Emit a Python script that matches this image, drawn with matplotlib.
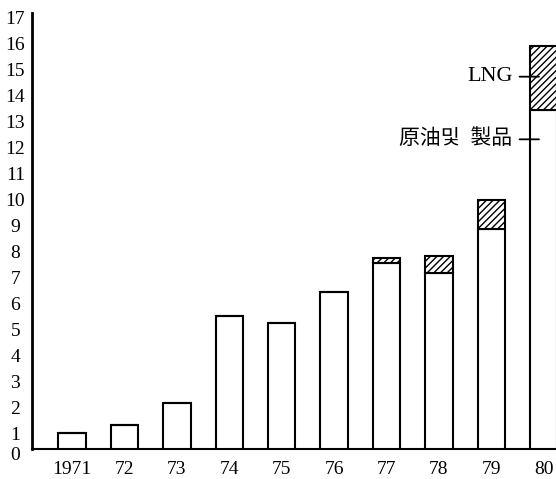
import matplotlib
matplotlib.use("Agg")
import matplotlib.pyplot as plt
import numpy as np

# ---- data ----
years = ["1971", "72", "73", "74", "75", "76", "77", "78", "79", "80"]
crude_products = [1.02, 1.32, 2.18, 5.52, 5.25, 6.45, 7.56, 7.15, 8.85, 13.43]
lng = [0.0, 0.0, 0.0, 0.0, 0.0, 0.0, 0.19, 0.66, 1.12, 2.47]
y_ticks = list(range(1, 18))
label_lng = "LNG"
label_crude = "原油및  製品"

W, H, DPI = 556, 479, 100
fig = plt.figure(figsize=(W / DPI, H / DPI), dpi=DPI)
fig.patch.set_facecolor("white")

ax_left, ax_right, ax_top, ax_bottom = 32, 556, 13, 449
ax = fig.add_axes([ax_left / W, (H - ax_bottom) / H,
                   (ax_right - ax_left) / W, (ax_bottom - ax_top) / H])

serif = ["Liberation Serif", "Noto Sans CJK KR", "DejaVu Sans"]
plt.rcParams["hatch.linewidth"] = 1.0

x = np.arange(len(years))
width = 0.52
ax.bar(x, crude_products, width, color="white", edgecolor="black", linewidth=1.5, zorder=2)
ax.bar(x, lng, width, bottom=crude_products, color="white", edgecolor="black",
       linewidth=1.5, hatch="/////", zorder=2)

ax.set_xlim(-0.765, 9.235)
ax.set_ylim(0.396, 17.17)

for s in ["top", "right"]:
    ax.spines[s].set_visible(False)
ax.spines["left"].set_linewidth(2.0)
ax.spines["bottom"].set_linewidth(1.5)

ax.set_yticks(y_ticks)
ax.set_yticklabels([str(v) for v in y_ticks], fontfamily=serif, fontsize=14, ha="center")
ax.tick_params(axis="y", length=0, pad=12.0)
ax.set_xticks(x)
ax.set_xticklabels(years, fontfamily=serif, fontsize=14)
ax.tick_params(axis="x", length=0, pad=8.5)

# zero label (sits just below the baseline)
fig.text(15 / W, (H - 455) / H, "0", family=serif, fontsize=14, ha="center", va="center")

# pointer annotations on the 1980 bar
ax.annotate(label_lng, xy=(8.91, 14.72), xytext=(8.407, 14.72),
            fontfamily=serif, fontsize=16, ha="right", va="center",
            arrowprops=dict(arrowstyle="-", color="black", lw=1.3,
                            shrinkA=3, shrinkB=0))
ax.annotate(label_crude, xy=(8.91, 12.31), xytext=(8.407, 12.31),
            fontfamily=serif, fontsize=15, ha="right", va="center",
            arrowprops=dict(arrowstyle="-", color="black", lw=1.3,
                            shrinkA=3, shrinkB=0))

fig.savefig("out.png", dpi=DPI, facecolor="white")
